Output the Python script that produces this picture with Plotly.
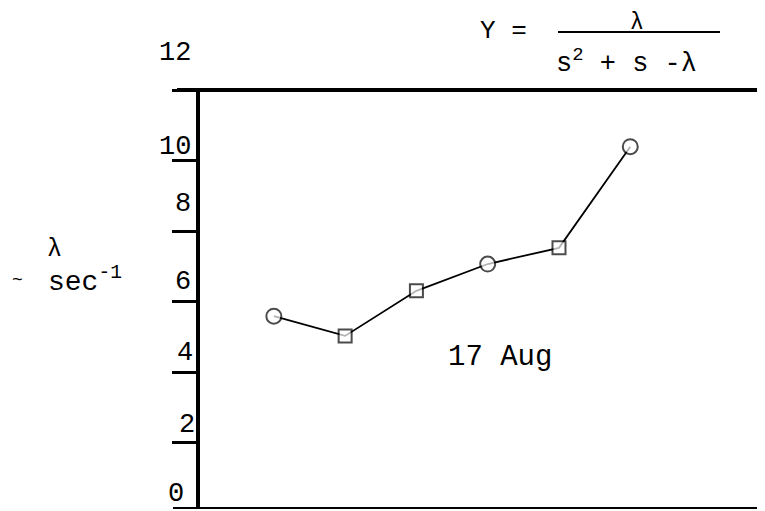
import plotly.graph_objects as go

# ---- data ----
run_index = [1, 2, 3, 4, 5, 6]
lambda_values = [5.59, 5.03, 6.31, 7.07, 7.53, 10.40]
marker_kind = ["circle", "square", "square", "circle", "square", "circle"]
y_tick_values = [0, 2, 4, 6, 8, 10, 12]
y_tick_labels = ["0", "2", "4", "6", "8", "10", "12"]
series_label = "17 Aug"

# ---- layout geometry (pixels) ----
# the page body has an 8px margin, so the figure is drawn 8px smaller and
# all reference-pixel positions are shifted by that offset.
OFF = 8
W, H = 765 - OFF, 511 - OFF
L, R, T, B = 200 - OFF, 0, 90 - OFF, 3
PW, PH = W - L - R, H - T - B
FONT = "Courier New, Liberation Mono, monospace"


def px_x(px):
    return (px - OFF - L) / PW


def px_y(py):
    return (H - B - (py - OFF)) / PH


# tick label placement tweaks (style): right-edge pixel and vertical shift
label_right_px = [186, 197, 195, 193, 193, 193, 193]
label_yshift = [16, 18, 19, 20, 27, 14, 37]

sizes = [15 if k == "circle" else 13 for k in marker_kind]

fig = go.Figure()
fig.add_trace(go.Scatter(
    x=run_index, y=lambda_values, mode="lines+markers",
    line=dict(color="black", width=1.8),
    marker=dict(symbol=marker_kind, size=sizes, color="white",
                line=dict(color="black", width=2)),
    showlegend=False, cliponaxis=False,
))

y_range = [0.145, 12.01]

annotations = []
for v, lab, rx, ys in zip(y_tick_values, y_tick_labels, label_right_px, label_yshift):
    yy = max(v, y_range[0])
    annotations.append(dict(
        x=px_x(rx), xref="paper", y=yy, yref="y", text=lab, showarrow=False,
        xanchor="right", yanchor="middle", yshift=ys + (0 if v >= y_range[0] else -2),
        font=dict(family=FONT, size=27, color="black"),
    ))

annotations += [
    dict(x=px_x(500), y=px_y(357), xref="paper", yref="paper", text=series_label,
         showarrow=False, xanchor="center", yanchor="middle",
         font=dict(family=FONT, size=29, color="black")),
    # y-axis label
    dict(x=px_x(54), y=px_y(249), xref="paper", yref="paper", text="λ",
         showarrow=False, xanchor="center", yanchor="middle",
         font=dict(family=FONT, size=25, color="black")),
    dict(x=px_x(17), y=px_y(280), xref="paper", yref="paper", text="~",
         showarrow=False, xanchor="center", yanchor="middle",
         font=dict(family=FONT, size=18, color="black")),
    dict(x=px_x(46), y=px_y(280), xref="paper", yref="paper", text="sec<sup>-1</sup>",
         showarrow=False, xanchor="left", yanchor="middle",
         font=dict(family=FONT, size=28, color="black")),
    # transfer function title
    dict(x=px_x(478), y=px_y(31), xref="paper", yref="paper", text="Y =",
         showarrow=False, xanchor="left", yanchor="middle",
         font=dict(family=FONT, size=26, color="black")),
    dict(x=px_x(637), y=px_y(8), xref="paper", yref="paper", text="λ",
         showarrow=False, xanchor="center", yanchor="top",
         font=dict(family=FONT, size=23, color="black")),
    dict(x=px_x(554), y=px_y(61), xref="paper", yref="paper",
         text="s<sup>2</sup> + s -λ",
         showarrow=False, xanchor="left", yanchor="middle",
         font=dict(family=FONT, size=27, color="black")),
]

shapes = [
    # top frame line extending left of the axis
    dict(type="line", xref="paper", yref="paper", x0=px_x(177), x1=1.0, y0=1, y1=1,
         line=dict(color="black", width=4)),
    # bottom line
    dict(type="line", xref="paper", yref="paper", x0=px_x(173), x1=1.0, y0=0, y1=0,
         line=dict(color="black", width=2)),
    # fraction bar
    dict(type="line", xref="paper", yref="paper", x0=px_x(558), x1=px_x(720),
         y0=px_y(32), y1=px_y(32), line=dict(color="black", width=2)),
]

fig.update_layout(
    width=W, height=H,
    margin=dict(l=L, r=R, t=T, b=B, pad=0),
    paper_bgcolor="white", plot_bgcolor="white",
    annotations=annotations, shapes=shapes,
    xaxis=dict(range=[-0.036, 7.89], showgrid=False, zeroline=False,
               showticklabels=False, ticks="", showline=False),
    yaxis=dict(range=y_range, showgrid=False, zeroline=False,
               showticklabels=False, tickvals=y_tick_values, ticks="outside",
               ticklen=24, tickwidth=3, tickcolor="black",
               showline=True, linecolor="black", linewidth=3.5),
    showlegend=False,
)

fig.write_html("out.html")
